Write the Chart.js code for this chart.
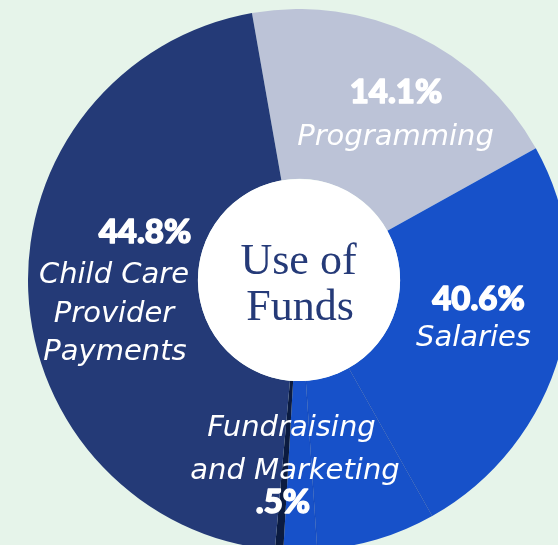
<!DOCTYPE html>
<html>
<head>
<meta charset="utf-8">
<script src="https://cdn.jsdelivr.net/npm/chart.js@4"></script>
<style>
  html, body { margin: 0; padding: 0; width: 558px; height: 545px; overflow: hidden; background: #e6f4ea; }
  #wrap { position: absolute; left: 28px; top: 9px; width: 542px; height: 542px; }
</style>
</head>
<body>
<div id="wrap"><canvas id="c"></canvas></div>
<script>
// ---- data (share of the circle as drawn, in %) ----
const categories = ['Programming', 'Salaries', 'Salaries (part 2)', 'Salaries (part 3)', 'Fundraising and Marketing', 'Child Care Provider Payments'];
const values = [19.7, 24.9, 7.1, 2.0, 0.5, 45.8];
// ---- printed labels ----
const pctLabels = ['14.1%', '40.6%', '.5%', '44.8%'];
const nameLabels = [['Programming'], ['Salaries'], ['Fundraising', 'and Marketing'], ['Child Care', 'Provider', 'Payments']];
const centerTitle = ['Use of', 'Funds'];

// ---- styles / layout ----
const sliceColors = ['#bcc3d7', '#1751c9', '#1751c9', '#1751c9', '#0b1b40', '#243a77'];
const faintLineSlices = [2, 3]; // boundaries drawn faintly inside the Salaries area
const labelLayout = [
  { pct: [97, -177], lines: [[96.5, -135]] },
  { pct: [179.5, 30], lines: [[174.5, 66]] },
  { pct: [-16, 233], lines: [[-7.5, 156], [-4, 199]] },
  { pct: [-154, -37], lines: [[-185, 3], [-185, 42], [-184, 80]] }
];
const centerLayout = [[-0.5, -6], [1, 40]];

const overlay = {
  id: 'overlay',
  afterDatasetsDraw(chart) {
    const ctx = chart.ctx;
    const meta = chart.getDatasetMeta(0);
    const a0 = meta.data[0];
    const cx = a0.x, cy = a0.y;
    const rIn = a0.innerRadius, rOut = a0.outerRadius;
    ctx.save();
    // faint boundaries
    ctx.strokeStyle = 'rgba(10,35,110,0.22)';
    ctx.lineWidth = 0.8;
    faintLineSlices.forEach(i => {
      const a = meta.data[i].startAngle;
      ctx.beginPath();
      ctx.moveTo(cx + Math.cos(a) * rIn, cy + Math.sin(a) * rIn);
      ctx.lineTo(cx + Math.cos(a) * rOut, cy + Math.sin(a) * rOut);
      ctx.stroke();
    });
    // white centre
    ctx.fillStyle = '#ffffff';
    ctx.beginPath();
    ctx.arc(cx, cy, rIn, 0, Math.PI * 2);
    ctx.fill();
    // centre title
    ctx.fillStyle = '#253a78';
    ctx.textAlign = 'center';
    ctx.textBaseline = 'alphabetic';
    ctx.font = '44px "Liberation Serif", serif';
    centerTitle.forEach((t, i) => ctx.fillText(t, cx + centerLayout[i][0], cy + centerLayout[i][1]));
    // slice labels
    ctx.fillStyle = '#ffffff';
    ctx.strokeStyle = '#ffffff';
    ctx.lineJoin = 'round';
    labelLayout.forEach((L, k) => {
      ctx.font = '900 33px Lato, "DejaVu Sans", sans-serif';
      ctx.lineWidth = 1.4;
      ctx.strokeText(pctLabels[k], cx + L.pct[0], cy + L.pct[1]);
      ctx.fillText(pctLabels[k], cx + L.pct[0], cy + L.pct[1]);
      ctx.font = 'italic 29px "DejaVu Sans", sans-serif';
      nameLabels[k].forEach((line, j) => ctx.fillText(line, cx + L.lines[j][0], cy + L.lines[j][1]));
    });
    ctx.restore();
  }
};

new Chart(document.getElementById('c'), {
  type: 'doughnut',
  data: {
    labels: categories,
    datasets: [{
      data: values,
      backgroundColor: sliceColors,
      borderWidth: 0,
      hoverOffset: 0
    }]
  },
  options: {
    responsive: true,
    maintainAspectRatio: false,
    animation: false,
    rotation: -10,
    cutout: '37.3%',
    layout: { padding: 0 },
    plugins: { legend: { display: false }, tooltip: { enabled: false } },
    events: []
  },
  plugins: [overlay]
});
</script>
</body>
</html>
